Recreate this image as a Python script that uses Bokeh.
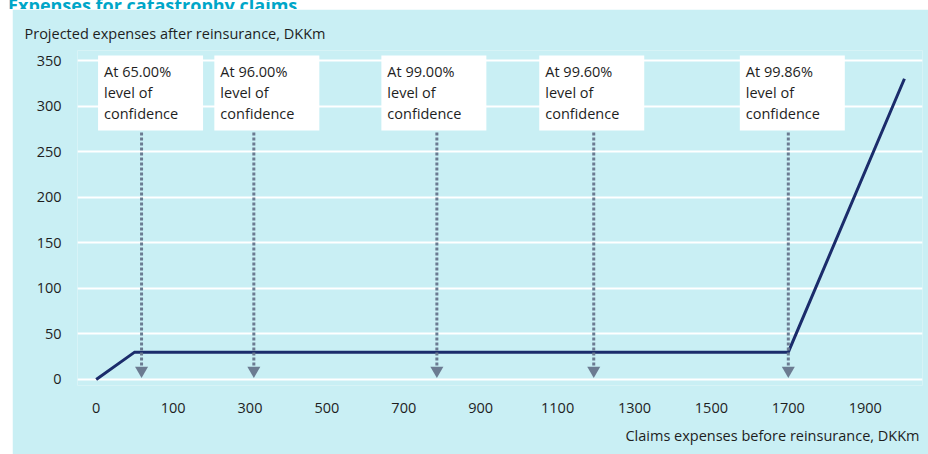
from bokeh.plotting import figure
from bokeh.models import Range1d, FixedTicker, ColumnDataSource, Title, Div
from bokeh.layouts import column
from bokeh.core.properties import value
from bokeh.embed import file_html
from bokeh.resources import INLINE

# ---------------- data ----------------
chart_title = "Expenses for catastrophy claims"
x_tick_labels = ["0", "100", "300", "500", "700", "900", "1100", "1300", "1500", "1700", "1900"]
y_ticks = [0, 50, 100, 150, 200, 250, 300, 350]
# positions along the claims axis (in tick-slot units: slot k carries label x_tick_labels[k])
curve_x = [0, 0.5, 9.0, 10.51]
curve_y = [0, 30, 30, 330]
marker_x = [0.59, 2.05, 4.43, 6.47, 9.0]
marker_levels = ["65.00%", "96.00%", "99.00%", "99.60%", "99.86%"]
y_title = "Projected expenses after reinsurance, DKKm"
x_title = "Claims expenses before reinsurance, DKKm"

# ---------------- style ----------------
BG = "#c9eff4"
NAVY = "#1b2c6b"
ARROW = "#6b7b91"
TXT = "#1e1e1e"
TEAL = "#00a6c8"
FONT = "Open Sans"
FS = "14.5px"

W, H = 916, 445
ML, MR, MT, MB = 65, 6, 41, 69
X0, X1 = -0.243, 10.745
Y0, Y1 = -6.6, 361.0
xs = (W - ML - MR) / (X1 - X0)
ys = (H - MT - MB) / (Y1 - Y0)

head = Div(text=('<div style="margin:-11px 0 0 8px;font-family:\'Open Sans\';font-weight:bold;'
                 'font-size:18px;line-height:18px;color:%s;white-space:nowrap">%s</div>') % (TEAL, chart_title),
           width=928, height=9, styles={"overflow": "hidden"}, margin=(0, 0, 0, 0))

p = figure(width=W, height=H, output_backend="svg", toolbar_location=None,
           x_range=Range1d(X0, X1), y_range=Range1d(Y0, Y1),
           min_border_left=ML, min_border_right=MR, min_border_top=MT, min_border_bottom=MB,
           background_fill_color=BG, border_fill_color=BG, outline_line_color=None,
           margin=(0, 0, 0, 12))

p.title.text = y_title
p.title.align = "left"
p.title.offset = -53
p.title.standoff = 16
p.title.text_font = FONT
p.title.text_font_size = FS
p.title.text_font_style = "normal"
p.title.text_color = TXT

p.xgrid.visible = False
p.ygrid.grid_line_color = "white"
p.ygrid.grid_line_width = 2
p.ygrid.ticker = FixedTicker(ticks=y_ticks)

for ax in (p.xaxis[0], p.yaxis[0]):
    ax.axis_line_color = None
    ax.major_tick_line_color = None
    ax.minor_tick_line_color = None
    ax.major_tick_out = 0
    ax.major_tick_in = 0
    ax.major_label_text_font = FONT
    ax.major_label_text_font_size = FS
    ax.major_label_text_color = TXT

p.yaxis.ticker = FixedTicker(ticks=y_ticks)
p.yaxis.major_label_standoff = 16

p.xaxis.ticker = FixedTicker(ticks=list(range(len(x_tick_labels))))
p.xaxis.major_label_overrides = {i: lab for i, lab in enumerate(x_tick_labels)}
p.xaxis.major_label_standoff = 17

xt = Title(text=x_title, align="right", offset=3, standoff=16, text_font=FONT,
           text_font_size=FS, text_font_style="normal", text_color=TXT)
p.add_layout(xt, "below")

# main curve
p.line(curve_x, curve_y, line_color=NAVY, line_width=3, line_join="miter")

# arrows (dotted stems with heads)
y_stem_top = Y1 - (132 - 50) / ys
y_stem_bot = Y1 - (366 - 50) / ys
y_head = Y1 - (370 - 50) / ys
p.segment(x0=marker_x, y0=[y_stem_top] * len(marker_x), x1=marker_x, y1=[y_stem_bot] * len(marker_x),
          line_color=ARROW, line_width=3, line_dash="3 2")
p.scatter(marker_x, [y_head] * len(marker_x), marker="inverted_triangle", size=13,
          fill_color=ARROW, line_color=None)

# label boxes
box_dx_px = [9, 13, -3, -2, 4]
box_w, box_h = 105, 75
box_top = Y1 - (55 - 50) / ys
box_cy = box_top - (box_h / 2) / ys
bx = [mx + dx / xs for mx, dx in zip(marker_x, box_dx_px)]
p.rect(x=bx, y=[box_cy] * len(bx), width=box_w, height=box_h,
       width_units="screen", height_units="screen", fill_color="white", line_color=None)

labels = ["At " + lv + "\nlevel of\nconfidence" for lv in marker_levels]
src = ColumnDataSource(dict(x=[b - (box_w / 2 - 6) / xs for b in bx],
                            y=[box_top - 6 / ys] * len(bx), text=labels))
p.text(x="x", y="y", text="text", source=src, text_font=value(FONT), text_font_size=FS,
       text_color=TXT, text_baseline="top", text_align="left", text_line_height=1.13)

layout = column(head, p, spacing=0)
open("out.html", "w").write(file_html(layout, INLINE))
